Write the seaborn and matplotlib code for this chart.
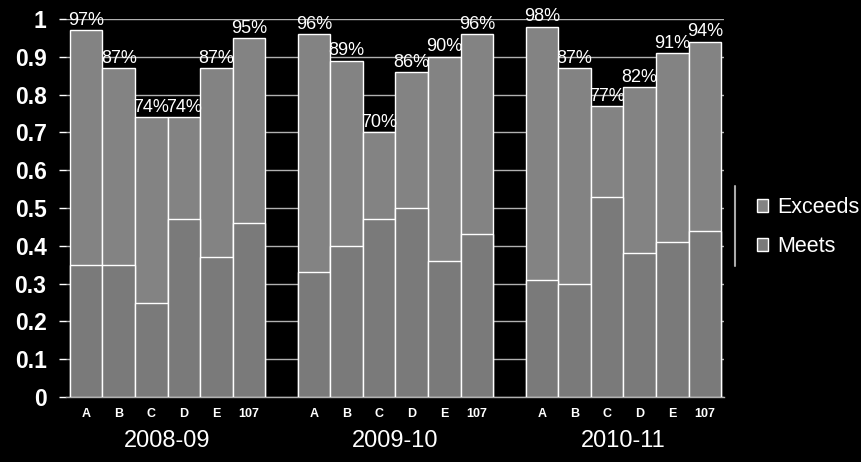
import matplotlib
matplotlib.use('Agg')
import matplotlib.pyplot as plt
import seaborn as sns
import pandas as pd
from matplotlib.patches import Patch
from matplotlib.lines import Line2D

# ---- data ----
years = ['2008-09', '2009-10', '2010-11']
schools = ['A', 'B', 'C', 'D', 'E', '107']
total_2008 = [0.97, 0.87, 0.74, 0.74, 0.87, 0.95]
total_2009 = [0.96, 0.89, 0.70, 0.86, 0.90, 0.96]
total_2010 = [0.98, 0.87, 0.77, 0.82, 0.91, 0.94]
meets_2008 = [0.35, 0.35, 0.25, 0.47, 0.37, 0.46]
meets_2009 = [0.33, 0.40, 0.47, 0.50, 0.36, 0.43]
meets_2010 = [0.31, 0.30, 0.53, 0.38, 0.41, 0.44]
y_ticks = [0, 0.1, 0.2, 0.3, 0.4, 0.5, 0.6, 0.7, 0.8, 0.9, 1]
y_tick_labels = ['0', '0.1', '0.2', '0.3', '0.4', '0.5', '0.6', '0.7', '0.8', '0.9', '1']

totals = [total_2008, total_2009, total_2010]
meets = [meets_2008, meets_2009, meets_2010]
GAP = 1
rows = []
for g, yr in enumerate(years):
    for i, s in enumerate(schools):
        rows.append({'pos': g * (len(schools) + GAP) + i, 'year': yr, 'school': s,
                     'total': totals[g][i], 'meets': meets[g][i]})
df = pd.DataFrame(rows)

# ---- style ----
sns.set_theme(style='dark', rc={'axes.facecolor': 'black', 'figure.facecolor': 'black'})
plt.rcParams['font.family'] = ['Liberation Sans', 'DejaVu Sans']

BG = 'black'
EXC = '#838383'
MEE = '#7a7a7a'
GRID = '#b0b0b0'

fig = plt.figure(figsize=(8.61, 4.62), dpi=100, facecolor=BG)
ax = fig.add_axes([66 / 861, 1 - 397 / 462, (724 - 66) / 861, 378 / 462])
ax.set_facecolor(BG)

sns.barplot(data=df, x='pos', y='total', native_scale=True, width=1, color=EXC,
            saturation=1, edgecolor='white', linewidth=1, errorbar=None, ax=ax, zorder=3)
sns.barplot(data=df, x='pos', y='meets', native_scale=True, width=1, color=MEE,
            saturation=1, edgecolor='white', linewidth=1, errorbar=None, ax=ax, zorder=3)

ax.bar_label(ax.containers[0], labels=[f'{round(v * 100)}%' for v in df['total']],
             padding=1, color='white', fontsize=13, zorder=5)

ax.set_ylim(0, 1)
ax.set_xlim(-0.62, 19.59)
ax.set_yticks(y_ticks)
ax.set_yticklabels(y_tick_labels)
ax.set_xticks(df['pos'])
ax.set_xticklabels(df['school'])
ax.set_xlabel('')
ax.set_ylabel('')

ax.tick_params(axis='y', colors='white', labelsize=16.5, length=5, width=1, pad=9, left=True)
for t in ax.get_yticklabels():
    t.set_fontweight('bold')
ax.tick_params(axis='x', colors='white', labelsize=9, length=0, pad=8)
for t in ax.get_xticklabels():
    t.set_fontweight('bold')

ax.yaxis.grid(True, color=GRID, linewidth=1)
ax.xaxis.grid(False)
ax.set_axisbelow(True)
for side in ['top', 'right', 'left']:
    ax.spines[side].set_visible(False)
ax.spines['bottom'].set_visible(True)
ax.spines['bottom'].set_color(GRID)
ax.spines['bottom'].set_linewidth(1)

for g, yr in enumerate(years):
    center = g * (len(schools) + GAP) + (len(schools) - 1) / 2
    ax.annotate(yr, xy=(center, 0), xycoords=('data', 'axes fraction'),
                xytext=(0, -32), textcoords='offset points', ha='center', va='center',
                color='white', fontsize=17)

handles = [Patch(facecolor=EXC, edgecolor='white', label='Exceeds'),
           Patch(facecolor=MEE, edgecolor='white', label='Meets')]
fig.legend(handles=handles, loc='center left', bbox_to_anchor=(748 / 861, 1 - 227 / 462),
           frameon=False, fontsize=15.5, handlelength=0.55, handleheight=0.55,
           handletextpad=0.4, labelspacing=0.85, labelcolor='white', borderaxespad=0)
fig.add_artist(Line2D([735 / 861, 735 / 861], [1 - 186 / 462, 1 - 266 / 462],
                      color='#aaaaaa', linewidth=1.5))

fig.savefig('out.png', dpi=100, facecolor=BG)
